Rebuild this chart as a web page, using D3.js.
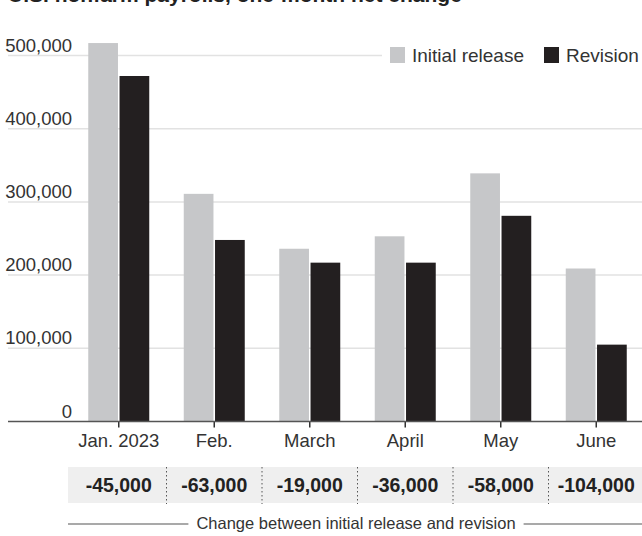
<!DOCTYPE html>
<html>
<head>
<meta charset="utf-8">
<script src="https://cdn.jsdelivr.net/npm/d3@7"></script>
<style>
  body { margin: 0; background: #fff; }
  svg { display: block; font-family: 'Liberation Sans', Arial, sans-serif; }
</style>
</head>
<body>
<svg id="chart" width="642" height="536"></svg>
<script>
const months = ['Jan. 2023', 'Feb.', 'March', 'April', 'May', 'June'];
const initialRelease = [517000, 311000, 236000, 253000, 339000, 209000];
const revision = [472000, 248000, 217000, 217000, 281000, 105000];
const changes = ['-45,000', '-63,000', '-19,000', '-36,000', '-58,000', '-104,000'];
const yTicks = [0, 100000, 200000, 300000, 400000, 500000];
const seriesNames = ['Initial release', 'Revision'];

const width = 642;
const margin = { left: 8, right: 0 };
const plotLeft = 71;
const plotRight = 644;
const y0 = 421.5;
const yTop = 55.5;

const color = d3.scaleOrdinal().domain(seriesNames).range(['#c6c7c9', '#231f20']);
const textColor = '#333';

const svg = d3.select('#chart');

const x0 = d3.scaleBand().domain(months).range([plotLeft, plotRight]);
const x1 = d3.scaleBand().domain(seriesNames).range([0, 61]).paddingInner(0.05);
const barOffset = (x0.bandwidth() - 61) / 2;

const y = d3.scaleLinear().domain([0, 500000]).range([y0, yTop]);

// title, mostly cut off at the top (as in the source)
svg.append('text')
  .attr('x', margin.left)
  .attr('y', 2)
  .attr('font-size', 21)
  .attr('font-weight', 'bold')
  .attr('fill', '#222')
  .text('U.S. nonfarm payrolls, one-month net change');

// gridlines and y labels
const grid = svg.append('g');
grid.selectAll('line')
  .data(yTicks.filter(d => d > 0))
  .join('line')
  .attr('x1', margin.left)
  .attr('x2', width)
  .attr('y1', d => y(d))
  .attr('y2', d => y(d))
  .attr('stroke', '#e2e2e2')
  .attr('stroke-width', 1.5);

grid.selectAll('text')
  .data(yTicks)
  .join('text')
  .attr('x', 72)
  .attr('y', d => y(d) - 4)
  .attr('text-anchor', 'end')
  .attr('font-size', 18.5)
  .attr('fill', textColor)
  .text(d => d3.format(',')(d));

// legend (white backing hides gridline)
const legend = svg.append('g').attr('transform', 'translate(382,40)');
legend.append('rect').attr('width', 260).attr('height', 30).attr('fill', '#fff');
const items = legend.selectAll('g.item')
  .data(seriesNames)
  .join('g')
  .attr('class', 'item')
  .attr('transform', (d, i) => `translate(${i === 0 ? 8 : 162},0)`);
items.append('rect')
  .attr('y', 7)
  .attr('width', 15)
  .attr('height', 16)
  .attr('fill', d => color(d));
items.append('text')
  .attr('x', 22)
  .attr('y', 22)
  .attr('font-size', 19)
  .attr('fill', textColor)
  .text(d => d);

// bars
const rows = months.map((m, i) => ({ month: m, values: [initialRelease[i], revision[i]] }));
svg.append('g')
  .selectAll('g')
  .data(rows)
  .join('g')
  .attr('transform', d => `translate(${x0(d.month) + barOffset},0)`)
  .selectAll('rect')
  .data(d => seriesNames.map((k, i) => ({ key: k, value: d.values[i] })))
  .join('rect')
  .attr('x', d => x1(d.key))
  .attr('y', d => y(d.value))
  .attr('width', x1.bandwidth())
  .attr('height', d => y(0) - y(d.value))
  .attr('fill', d => color(d.key));

// x axis
const xAxis = svg.append('g')
  .attr('transform', `translate(0,${y0})`)
  .call(d3.axisBottom(x0).tickSize(6).tickSizeOuter(0).tickPadding(6));
xAxis.select('.domain').remove();
xAxis.append('line')
  .attr('x1', margin.left)
  .attr('x2', width)
  .attr('stroke', '#555')
  .attr('stroke-width', 1.5);
xAxis.selectAll('.tick line').attr('stroke', '#333').attr('stroke-width', 1.5);
xAxis.selectAll('.tick text')
  .attr('font-size', 18.5)
  .attr('font-family', "'Liberation Sans', Arial, sans-serif")
  .attr('fill', textColor);

// change table
const table = svg.append('g');
table.append('rect')
  .attr('x', 68)
  .attr('y', 467)
  .attr('width', width - 68)
  .attr('height', 36)
  .attr('fill', '#efefef');
table.selectAll('line.sep')
  .data(months.slice(1))
  .join('line')
  .attr('class', 'sep')
  .attr('x1', d => x0(d))
  .attr('x2', d => x0(d))
  .attr('y1', 467)
  .attr('y2', 504)
  .attr('stroke', '#555')
  .attr('stroke-dasharray', '1.5,2.5');
table.selectAll('text')
  .data(months.map((m, i) => ({ month: m, label: changes[i] })))
  .join('text')
  .attr('x', d => x0(d.month) + x0.bandwidth() / 2)
  .attr('y', 492)
  .attr('text-anchor', 'middle')
  .attr('font-size', 19.5)
  .attr('font-weight', 'bold')
  .attr('fill', '#222')
  .text(d => d.label);

// footer caption with rules
const caption = svg.append('text')
  .attr('x', 356)
  .attr('y', 529)
  .attr('text-anchor', 'middle')
  .attr('font-size', 16.5)
  .attr('fill', textColor)
  .text('Change between initial release and revision');
const cb = caption.node().getBBox();
svg.append('line')
  .attr('x1', 68).attr('x2', cb.x - 8)
  .attr('y1', 524).attr('y2', 524)
  .attr('stroke', '#555').attr('stroke-width', 1.2);
svg.append('line')
  .attr('x1', cb.x + cb.width + 8).attr('x2', width)
  .attr('y1', 524).attr('y2', 524)
  .attr('stroke', '#555').attr('stroke-width', 1.2);
</script>
</body>
</html>
